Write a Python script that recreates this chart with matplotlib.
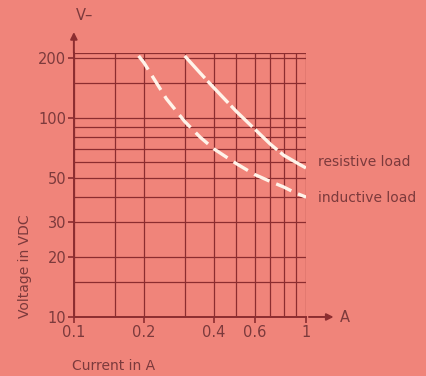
import matplotlib
matplotlib.use("Agg")
import matplotlib.pyplot as plt
from matplotlib.ticker import FixedLocator, NullFormatter, NullLocator

# Data
res_i = [0.3, 0.35, 0.4, 0.5, 0.6, 0.7, 0.8, 0.9, 1.0]
res_v = [205, 168, 142, 108, 88, 74, 65, 60, 56]
ind_i = [0.19, 0.2, 0.25, 0.3, 0.35, 0.4, 0.5, 0.6, 0.7, 0.8, 0.9, 1.0]
ind_v = [205, 190, 125, 96, 80, 70, 59, 52, 48, 45, 42, 40]
x_ticks = [0.1, 0.2, 0.4, 0.6, 1]
x_tick_labels = ["0.1", "0.2", "0.4", "0.6", "1"]
y_ticks = [10, 20, 30, 50, 100, 200]
y_tick_labels = ["10", "20", "30", "50", "100", "200"]
x_grid = [0.1, 0.15, 0.2, 0.3, 0.4, 0.5, 0.6, 0.7, 0.8, 0.9, 1.0]
y_grid = [10, 15, 20, 30, 40, 50, 60, 70, 80, 90, 100, 150, 200, 212]

BG = "#F0847A"
GRID = "#8c2d30"
TXT = "#7c3a3c"
FONT = "DejaVu Sans"

fig = plt.figure(figsize=(4.27, 3.76), dpi=100, facecolor=BG)
ax = fig.add_axes([0.173, 0.157, 0.544, 0.702])
ax.set_facecolor(BG)
ax.set_xscale("log")
ax.set_yscale("log")
ax.set_xlim(0.1, 1.0)
ax.set_ylim(10, 212)

for xv in x_grid:
    ax.axvline(xv, color=GRID, lw=0.9, zorder=1)
for yv in y_grid:
    ax.axhline(yv, color=GRID, lw=0.9, zorder=1)

ax.plot(res_i, res_v, color="#fff4ea", lw=2.4, dashes=(9, 1.2), zorder=3)
ax.plot(ind_i, ind_v, color="#fff4ea", lw=2.4, dashes=(5, 2.2), zorder=3)

for s in ["top", "right"]:
    ax.spines[s].set_visible(False)
for s in ["left", "bottom"]:
    ax.spines[s].set_color(GRID)
    ax.spines[s].set_linewidth(1.4)

ax.xaxis.set_major_locator(FixedLocator(x_ticks))
ax.xaxis.set_minor_locator(NullLocator())
ax.xaxis.set_minor_formatter(NullFormatter())
ax.set_xticklabels(x_tick_labels)
ax.yaxis.set_major_locator(FixedLocator(y_ticks))
ax.yaxis.set_minor_locator(NullLocator())
ax.yaxis.set_minor_formatter(NullFormatter())
ax.set_yticklabels(y_tick_labels)
ax.tick_params(axis="both", colors=GRID, labelcolor=TXT, length=4, width=1.2,
               labelsize=10.5, direction="out")
ax.tick_params(axis="x", pad=2)
ax.tick_params(axis="y", pad=1.5)
for lab in ax.get_xticklabels() + ax.get_yticklabels():
    lab.set_fontfamily(FONT)

# axis arrows
ax.annotate("", xy=(0, 1.09), xytext=(0, 0.99), xycoords="axes fraction",
            arrowprops=dict(arrowstyle="-|>", color=GRID, lw=1.4, mutation_scale=10))
ax.annotate("", xy=(1.13, 0), xytext=(1.0, 0), xycoords="axes fraction",
            arrowprops=dict(arrowstyle="-|>", color=GRID, lw=1.4, mutation_scale=10))
fig.text(0.178, 0.96, "V\u2013", color=TXT, fontsize=10.5, family=FONT, ha="left", va="center")
fig.text(0.797, 0.155, "A", color=TXT, fontsize=10.5, family=FONT, ha="left", va="center")

fig.text(0.745, 0.568, "resistive load", color=TXT, fontsize=10, family=FONT, ha="left", va="center")
fig.text(0.745, 0.473, "inductive load", color=TXT, fontsize=10, family=FONT, ha="left", va="center")
fig.text(0.058, 0.293, "Voltage in VDC", color=TXT, fontsize=10, family=FONT, rotation=90,
         ha="center", va="center")
fig.text(0.168, 0.027, "Current in A", color=TXT, fontsize=10, family=FONT, ha="left", va="center")

fig.savefig("out.png", dpi=100, facecolor=BG)
